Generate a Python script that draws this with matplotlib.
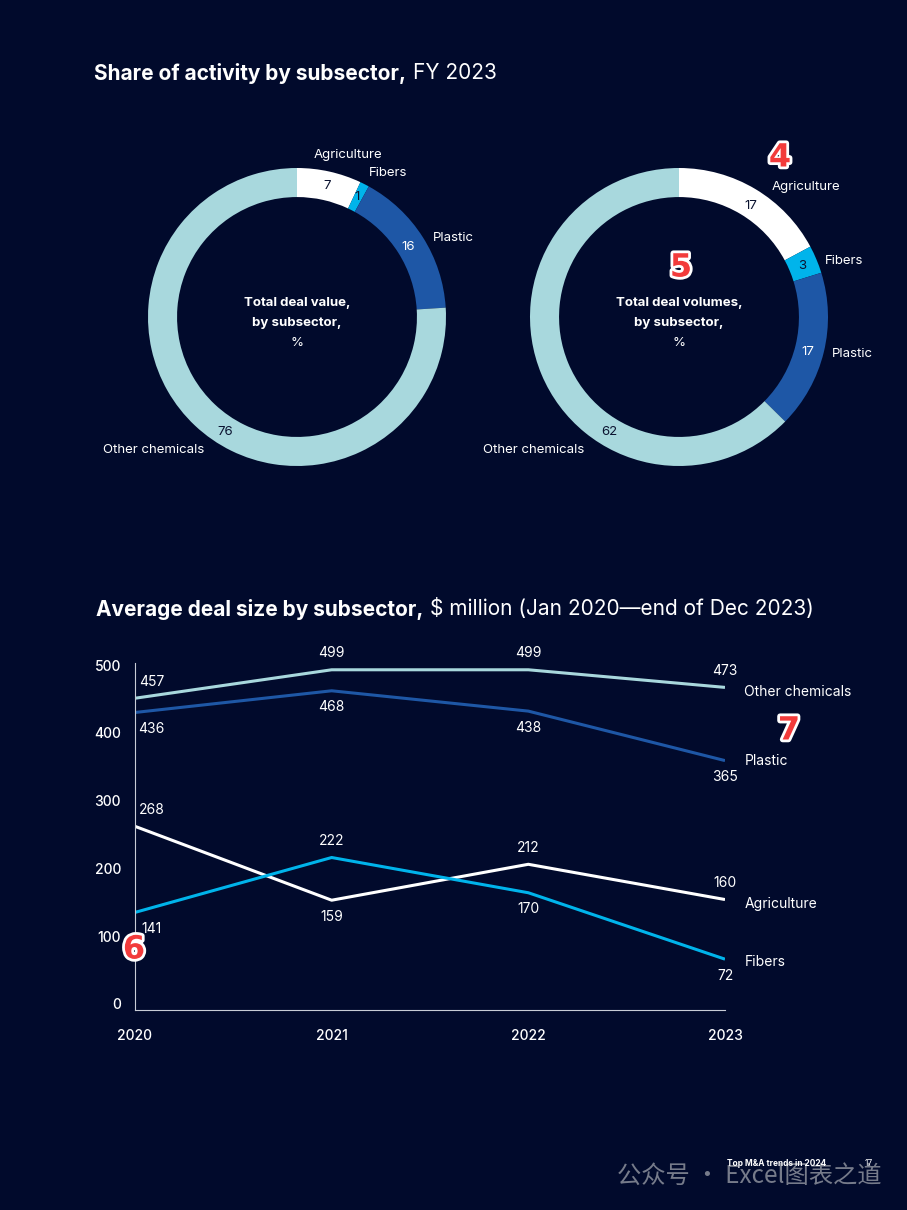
import matplotlib.pyplot as plt
import matplotlib.patheffects as pe
from matplotlib.transforms import ScaledTranslation

# data
subsectors = ['Agriculture', 'Fibers', 'Plastic', 'Other chemicals']
deal_value = [7, 1, 16, 76]
deal_volume = [17, 3, 17, 62]

years = [2020, 2021, 2022, 2023]
size_other = [457, 499, 499, 473]
size_plastic = [436, 468, 438, 365]
size_agri = [268, 159, 212, 160]
size_fibers = [141, 222, 170, 72]

BG = '#010a2c'
COLORS = {'Agriculture': '#ffffff', 'Fibers': '#00b4eb',
          'Plastic': '#1e57a6', 'Other chemicals': '#a8d8dd'}
DARK = '#0b1330'

plt.rcParams['font.family'] = ['Inter', 'DejaVu Sans']

W, H = 907, 1210
fig = plt.figure(figsize=(W / 100, H / 100), dpi=100, facecolor=BG)


def px(x, y):
    return x / W, 1 - y / H


def ftext(x, y, s, **kw):
    kw.setdefault('color', 'white')
    return fig.text(*px(x, y), s, **kw)


def title(x, y, bold, rest):
    t = ftext(x, y, bold, fontsize=15, fontweight='bold', va='center')
    r = fig.canvas.get_renderer()
    bb = t.get_window_extent(r)
    fig.text((bb.x1 + 7) / W, 1 - y / H, rest, fontsize=15, color='white', va='center')


title(94, 73, 'Share of activity by subsector,', 'FY 2023')
title(96, 609, 'Average deal size by subsector,', '$ million (Jan 2020\u2014end of Dec 2023)')

# donuts
def donut(cx, cy, values, center_lines, label_pos, value_pos):
    R = 149
    ax = fig.add_axes([(cx - R) / W, 1 - (cy + R) / H, 2 * R / W, 2 * R / H])
    ax.pie(values, colors=[COLORS[s] for s in subsectors], startangle=90,
           counterclock=False, radius=1,
           wedgeprops=dict(width=0.195, linewidth=0))
    ax.set_xlim(-1, 1)
    ax.set_ylim(-1, 1)
    ax.axis('off')
    for i, (line, w) in enumerate(center_lines):
        ftext(cx, cy - 14 + i * 20, line, fontsize=9.5, fontweight=w,
              ha='center', va='center')
    for s, v, (lx, ly, ha), (vx, vy) in zip(subsectors, values, label_pos, value_pos):
        ftext(lx, ly, s, fontsize=9.5, ha=ha, va='center')
        col = 'white' if s == 'Plastic' else DARK
        ftext(vx, vy, str(v), fontsize=9.5, ha='center', va='center', color=col)


donut(297, 317, deal_value,
      [('Total deal value,', 'bold'), ('by subsector,', 'bold'), ('%', 'normal')],
      [(348, 155, 'center'), (369, 173, 'left'), (433, 238, 'left'), (103, 450, 'left')],
      [(327, 186), (357, 197), (408, 247), (225, 432)])
donut(679, 317, deal_volume,
      [('Total deal volumes,', 'bold'), ('by subsector,', 'bold'), ('%', 'normal')],
      [(772, 187, 'left'), (825, 261, 'left'), (832, 354, 'left'), (483, 450, 'left')],
      [(751, 206), (802, 266), (808, 352), (609, 432)])

# line chart
ax = fig.add_axes([135 / W, 1 - 1010 / H, (725 - 135) / W, (1010 - 663) / H])
ax.set_facecolor(BG)
ax.set_xlim(2020, 2023)
ax.set_ylim(-3, 509)
for sp in ['top', 'right']:
    ax.spines[sp].set_visible(False)
for sp in ['left', 'bottom']:
    ax.spines[sp].set_color('#c8ccd6')
    ax.spines[sp].set_linewidth(0.8)
ax.set_yticks([0, 100, 200, 300, 400, 500])
ax.set_xticks(years)
ax.tick_params(length=0, colors='white', labelsize=10)
ax.tick_params(axis='y', pad=10)
ax.tick_params(axis='x', pad=14)
for lab in ax.get_yticklabels():
    lab.set_fontweight('medium')
    lab.set_transform(lab.get_transform() + ScaledTranslation(0, 4 / 100, fig.dpi_scale_trans))
for lab in ax.get_xticklabels():
    lab.set_fontweight('medium')

series = [
    ('Other chemicals', size_other, ['up', 'up', 'up', 'up'], -3),
    ('Plastic', size_plastic, ['down', 'down', 'down', 'down'], 0),
    ('Agriculture', size_agri, ['up', 'down', 'up', 'up'], -3),
    ('Fibers', size_fibers, ['down', 'up', 'down', 'down'], -2),
]
for name, vals, pos, dy in series:
    ax.plot(years, vals, color=COLORS[name], lw=2.2, solid_capstyle='butt')
    for i, (x, v, p) in enumerate(zip(years, vals, pos)):
        ox = 12 if i == 0 else 0
        oy = 12 if p == 'up' else -12
        ax.annotate(str(v), (x, v), xytext=(ox, oy), textcoords='offset points',
                    ha='center', va='center', color='white', fontsize=10,
                    annotation_clip=False)
    ax.annotate(name, (years[-1], vals[-1]), xytext=(14, dy),
                textcoords='offset points', ha='left', va='center',
                color='white', fontsize=10, annotation_clip=False)

# red markers
stroke = [pe.withStroke(linewidth=4, foreground='white')]
for s, x, y in [('4', 780, 158), ('5', 681, 268), ('6', 134, 950), ('7', 789, 731)]:
    ftext(x, y, s, fontsize=23, fontweight='bold', color='#f23b3b',
          ha='center', va='center', path_effects=stroke, family='DejaVu Sans')

# footer
ftext(617, 1176, '公众号 · Excel图表之道', fontsize=17.5, color='#8c909c', alpha=0.85,
      va='center', family=['Noto Sans CJK SC', 'DejaVu Sans'])
ftext(727, 1164, 'Top M&A trends in 2024', fontsize=6, fontweight='bold', va='center')
ftext(869, 1164, '17', fontsize=6, va='center', ha='center')

fig.savefig('out.png', dpi=100, facecolor=BG)
